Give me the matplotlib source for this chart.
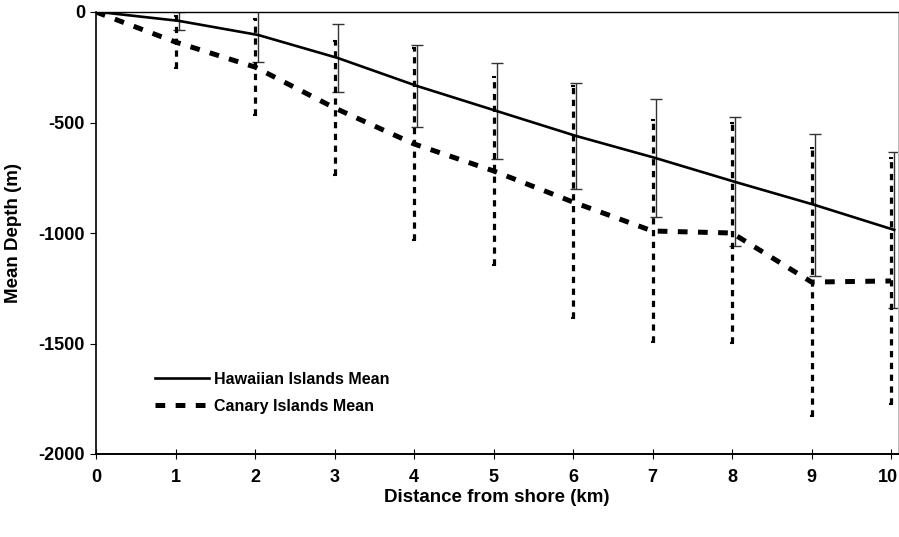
import matplotlib
matplotlib.use("Agg")
import matplotlib.pyplot as plt
import matplotlib.transforms as mtransforms
import numpy as np

plt.rcParams['font.family'] = ['Liberation Sans', 'DejaVu Sans']
plt.rcParams['lines.scale_dashes'] = False

distance = [0, 1, 2, 3, 4, 5, 6, 7, 8, 9, 10]
hawaii_mean = [0, -40, -104, -208, -335, -448, -561, -661, -769, -873, -986]
hawaii_err = [0, 40, 122, 153, 185, 215, 240, 267, 292, 320, 353]
canary_mean = [0, -136, -249, -434, -597, -719, -860, -991, -1000, -1222, -1217]
canary_err = [0, 117, 217, 304, 435, 426, 525, 502, 498, 606, 557]

fig = plt.figure(figsize=(8.99, 5.37), dpi=100)
ax = fig.add_axes([96/899, (537-454)/537, (898-96)/899, (454-12)/537])

hx = np.array(distance) + 0.04
cx = np.array(distance, dtype=float)

ax.errorbar(hx[1:], hawaii_mean[1:], yerr=hawaii_err[1:], fmt='none',
            ecolor='#333333', elinewidth=1.0, capsize=4, capthick=1.0, zorder=2)
eb = ax.errorbar(cx[1:], canary_mean[1:], yerr=canary_err[1:], fmt='none',
                 ecolor='black', elinewidth=2.3, capsize=1.6, capthick=1.5, zorder=2)
for lc in eb[2]:
    lc.set_linestyle((0, (4.5, 4.0)))

ax.plot(hx, hawaii_mean, color='black', lw=1.9, label='Hawaiian Islands Mean', zorder=3)
ax.plot(cx, canary_mean, color='black', lw=3.6, dashes=(7, 7.5),
        label='Canary Islands Mean', zorder=3)

ax.set_xlim(0, 10.088)
ax.set_ylim(-2000, 0)
ax.set_xticks(distance)
ax.set_yticks([0, -500, -1000, -1500, -2000])
ax.set_yticklabels(['0', '-500', '-1000', '-1500', '-2000'])

ax.tick_params(axis='x', direction='inout', length=7, width=0.8, pad=7)
ax.tick_params(axis='y', direction='out', length=4, width=0.8, pad=4)

for lab in ax.get_xticklabels() + ax.get_yticklabels():
    lab.set_fontweight('bold')
    lab.set_fontsize(13)

# keep the last x label inside the figure, as in the reference
last = ax.xaxis.get_major_ticks()[-1].label1
last.set_transform(last.get_transform() +
                   mtransforms.ScaledTranslation(-3.5/100, 0, fig.dpi_scale_trans))

ax.spines['left'].set_linewidth(1.2)
ax.spines['bottom'].set_linewidth(1.4)
ax.spines['top'].set_linewidth(1.0)
ax.spines['right'].set_linewidth(0.8)
ax.spines['right'].set_color('#bbbbbb')

ax.set_xlabel('Distance from shore (km)', fontsize=13.5, fontweight='bold', labelpad=2.5)
ax.set_ylabel('Mean Depth (m)', fontsize=13.5, fontweight='bold', labelpad=12)

leg = ax.legend(loc='upper left', bbox_to_anchor=((155-96)/802, (454-372)/442),
                frameon=False, handlelength=3.4, handletextpad=0.3,
                borderaxespad=0, borderpad=0, labelspacing=0.75,
                prop={'weight': 'bold', 'size': 11.5})

fig.savefig('out.png', dpi=100)
